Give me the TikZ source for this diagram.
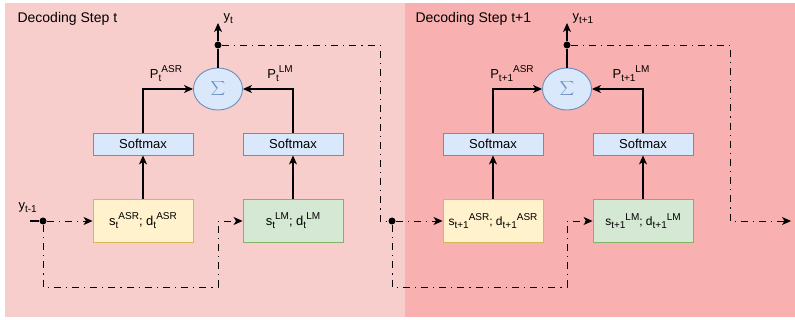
\documentclass[tikz,border=0pt]{standalone}
\usepackage{fontspec}
\setmainfont{Liberation Sans}
\usetikzlibrary{positioning,shapes.geometric,arrows.meta}

\definecolor{stepone}{HTML}{F8CECC}
\definecolor{steptwo}{HTML}{F8B0B0}
\definecolor{smxfill}{HTML}{DAE8FC}
\definecolor{smxline}{HTML}{6C8EBF}
\definecolor{asrfill}{HTML}{FFF2CC}
\definecolor{asrline}{HTML}{D6B656}
\definecolor{lmfill}{HTML}{D5E8D4}
\definecolor{lmline}{HTML}{82B366}

\newcommand\lo[1]{\raisebox{-0.45ex}{\fontsize{10}{10}\selectfont #1}}
\newcommand\hi[1]{\raisebox{0.85ex}{\fontsize{10}{10}\selectfont #1}}

\begin{document}
\begin{tikzpicture}[x=1pt, y=-1pt, >={Stealth[length=9pt,width=8pt,inset=2.5pt]}, node distance=77pt and 150pt, on grid, line width=1.1pt,
	smx/.style={draw=smxline, fill=smxfill, line width=0.9pt, minimum width=100pt, minimum height=22pt, inner sep=0pt, font=\fontsize{13}{15}\selectfont},
	asrbox/.style={draw=asrline, fill=asrfill, line width=0.9pt, minimum width=100pt, minimum height=43pt, inner sep=0pt, font=\fontsize{13}{15}\selectfont},
	lmbox/.style={draw=lmline, fill=lmfill, line width=0.9pt, minimum width=100pt, minimum height=43pt, inner sep=0pt, font=\fontsize{13}{15}\selectfont},
	sumnode/.style={ellipse, draw=smxline, fill=smxfill, line width=0.9pt, minimum width=49pt, minimum height=42pt, inner sep=0pt, text=smxline, font=\fontsize{19}{19}\selectfont},
	dot/.style={circle, fill=black, inner sep=0pt, minimum size=7pt},
	lbl/.style={font=\fontsize{13}{15}\selectfont, inner sep=1pt},
	dd/.style={line width=0.9pt, dash pattern=on 7pt off 5pt on 1.2pt off 5pt}]
	\useasboundingbox (0,0) rectangle (795,320);
	\fill[stepone] (5,3) rectangle (405,317);
	\fill[steptwo] (405,3) rectangle (795,317);
	\node[lbl, font=\fontsize{14}{16}\selectfont, anchor=west] (title1) at (16,19) {Decoding Step t};
	\node[lbl, font=\fontsize{14}{16}\selectfont, anchor=west] (title2) at (414,19) {Decoding Step t+1};
	
	% step t
	\node[asrbox] (asr1) at (143,221) {s\lo{t}\hi{ASR}; d\lo{t}\hi{ASR}};
	\node[lmbox] (lm1) [right=of asr1] {s\lo{t}\hi{LM}; d\lo{t}\hi{LM}};
	\node[smx] (smxa1) [above=of asr1] {Softmax};
	\node[smx] (smxl1) [above=of lm1] {Softmax};
	\node[sumnode] (sum1) at (218,89) {$\displaystyle\sum$};
	\node[dot] (top1) at (218,45) {};
	\coordinate (yt1) at (218,23);
	\node[lbl, anchor=south west] at (222,25) {y\lo{t}};
	\node[lbl] at (166,74) {P\lo{t}\hi{ASR}};
	\node[lbl] at (280,74) {P\lo{t}\hi{LM}};
	\node[lbl, anchor=south west] at (17,214) {y\lo{t-1}};
	\coordinate (start1) at (30,221);
	\node[dot] (in1) at (43,221) {};
	\coordinate (low1) at (218,287);
	\coordinate (bend1) at (380,221);
	
	\draw[->] (asr1) -- (smxa1);
	\draw[->] (lm1) -- (smxl1);
	\draw[->] (smxa1.north) |- (sum1.west);
	\draw[->] (smxl1.north) |- (sum1.east);
	\draw (sum1) -- (top1);
	\draw[->] (top1) -- (yt1);
	\draw (start1) -- (in1);
	\draw[dd, ->] (in1) -- (asr1);
	\draw[dd, ->] (in1) |- (low1) |- (lm1.west);
	
	% step t+1
	\node[asrbox, font=\fontsize{12}{14}\selectfont] (asr2) at (493,221) {s\lo{t+1}\hi{ASR}; d\lo{t+1}\hi{ASR}};
	\node[lmbox, font=\fontsize{12}{14}\selectfont] (lm2) [right=of asr2] {s\lo{t+1}\hi{LM}; d\lo{t+1}\hi{LM}};
	\node[smx] (smxa2) [above=of asr2] {Softmax};
	\node[smx] (smxl2) [above=of lm2] {Softmax};
	\node[sumnode] (sum2) at (567,89) {$\displaystyle\sum$};
	\node[dot] (top2) at (567,45) {};
	\coordinate (yt2) at (567,23);
	\node[lbl, anchor=south west] at (571,25) {y\lo{t+1}};
	\node[lbl] at (512,74) {P\lo{t+1}\hi{ASR}};
	\node[lbl] at (631,74) {P\lo{t+1}\hi{LM}};
	\node[dot] (in2) at (392,221) {};
	\coordinate (low2) at (567,287);
	\coordinate (bend2) at (730,221);
	\coordinate (out2) at (791,221);
	
	\draw[dd] (top1) -| (bend1) -- (in2);
	\draw[->] (asr2) -- (smxa2);
	\draw[->] (lm2) -- (smxl2);
	\draw[->] (smxa2.north) |- (sum2.west);
	\draw[->] (smxl2.north) |- (sum2.east);
	\draw (sum2) -- (top2);
	\draw[->] (top2) -- (yt2);
	\draw[dd, ->] (in2) -- (asr2);
	\draw[dd, ->] (in2) |- (low2) |- (lm2.west);
	\draw[dd, ->] (top2) -| (bend2) -- (out2);
	
\end{tikzpicture}
\end{document}
